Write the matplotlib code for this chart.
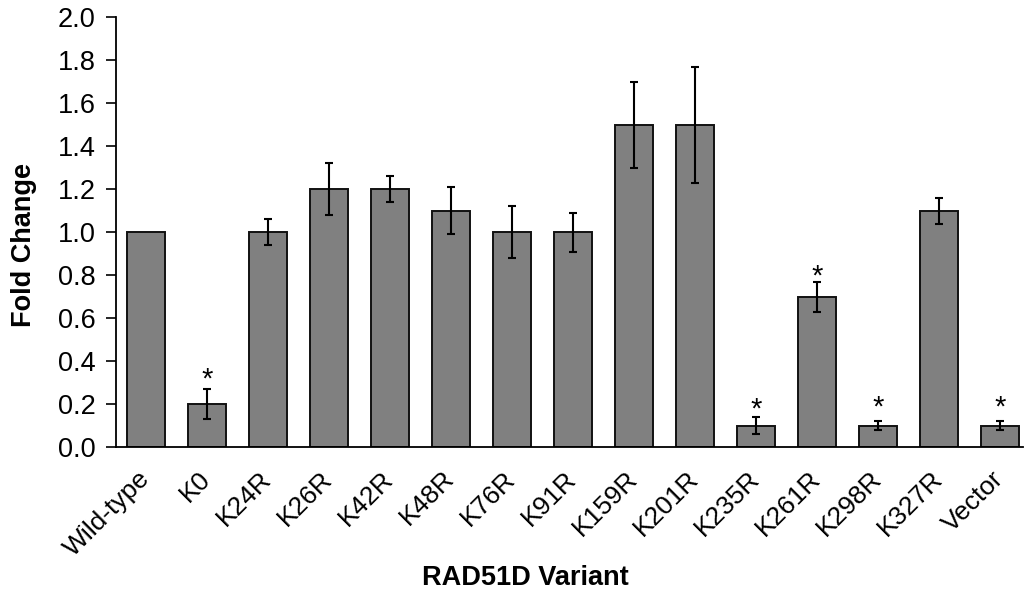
import numpy as np
import matplotlib.pyplot as plt

plt.rcParams['font.family'] = ['Liberation Sans', 'DejaVu Sans']

variants = ['Wild-type', 'K0', 'K24R', 'K26R', 'K42R', 'K48R', 'K76R', 'K91R',
            'K159R', 'K201R', 'K235R', 'K261R', 'K298R', 'K327R', 'Vector']
fold_change = [1.0, 0.2, 1.0, 1.2, 1.2, 1.1, 1.0, 1.0, 1.5, 1.5, 0.1, 0.7, 0.1, 1.1, 0.1]
errors = [0.0, 0.07, 0.06, 0.12, 0.06, 0.11, 0.12, 0.09, 0.2, 0.27, 0.04, 0.07, 0.02, 0.06, 0.02]
# significance marks (index of variant, height of the star)
star_idx = [1, 10, 11, 12, 14]
star_y = [0.34, 0.20, 0.82, 0.21, 0.21]

fig = plt.figure(figsize=(10.25, 5.9), dpi=100)
ax = fig.add_axes([0.113, 0.242, 0.885, 0.729])

x = np.arange(len(variants))
ax.bar(x, fold_change, width=0.62, color='#808080', edgecolor='#111111', linewidth=1.4, zorder=2)

has_err = [e > 0 for e in errors]
ax.errorbar(x[has_err], np.array(fold_change)[has_err], yerr=np.array(errors)[has_err],
            fmt='none', ecolor='black', elinewidth=1.5, capsize=3, capthick=1.5, zorder=3)

for i, sy in zip(star_idx, star_y):
    ax.text(x[i], sy - 0.025, '*', ha='center', va='center', fontsize=21)

ax.set_xlim(-0.49, 14.38)
ax.set_ylim(0, 2.0)
yt = np.arange(0, 2.01, 0.2)
ax.set_yticks(yt)
ax.set_yticklabels(['%.1f' % t for t in yt], fontsize=19.5)
ax.set_xticks(x)
ax.set_xticklabels(variants, rotation=45, ha='right', va='center', rotation_mode='anchor', fontsize=19)
ax.tick_params(axis='x', length=0, pad=20)
ax.tick_params(axis='y', direction='out', length=7.5, width=1.2, pad=7)

ax.spines['top'].set_visible(False)
ax.spines['right'].set_visible(False)
ax.spines['left'].set_linewidth(1.3)
ax.spines['bottom'].set_linewidth(1.3)

ax.set_ylabel('Fold Change', fontsize=19.5, fontweight='bold')
ax.yaxis.set_label_coords(-0.087, 0.47)
ax.set_xlabel('RAD51D Variant', fontsize=19.5, fontweight='bold')
ax.xaxis.set_label_coords(0.452, -0.274)

fig.savefig('out.png', dpi=100)
